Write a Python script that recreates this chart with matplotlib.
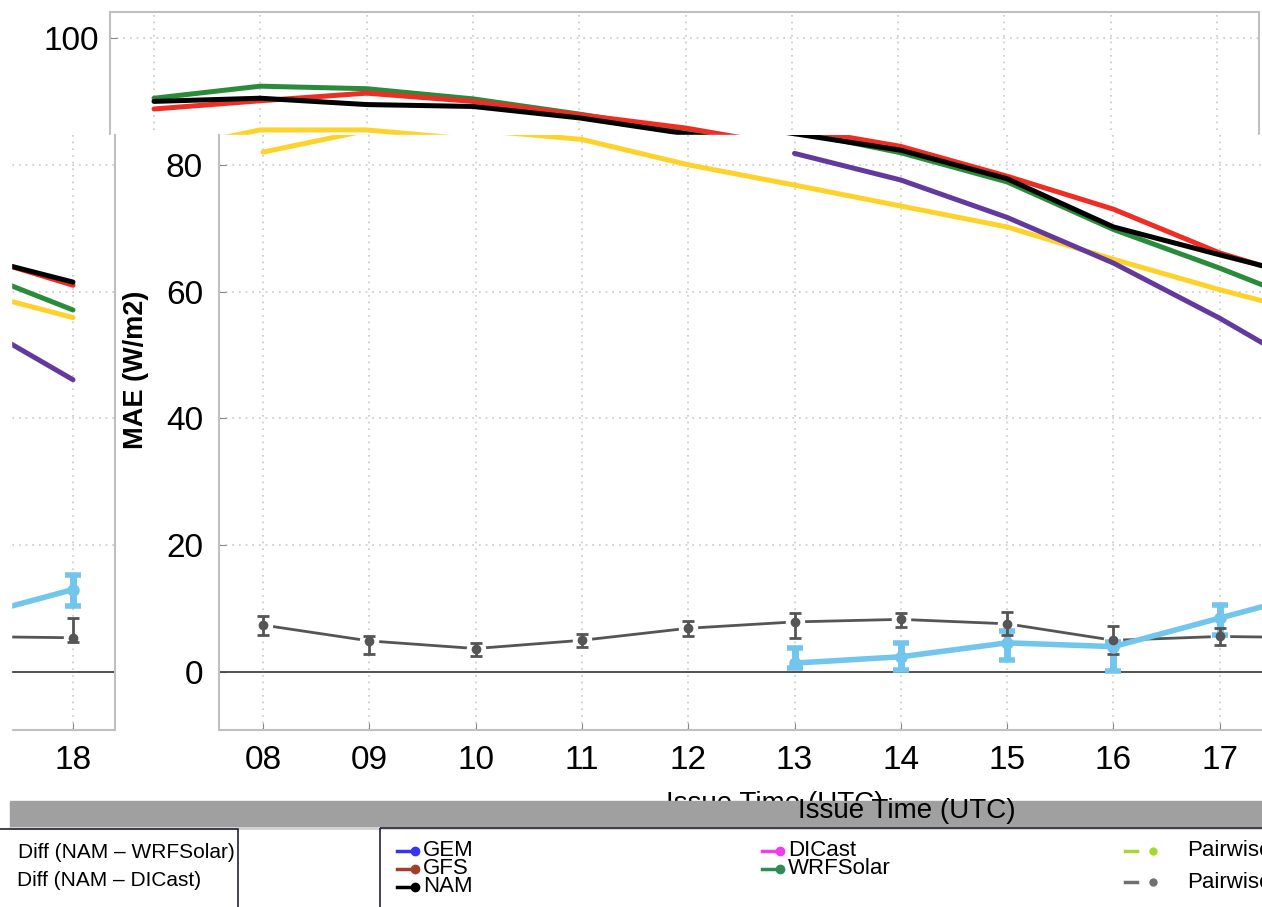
import numpy as np
import matplotlib.pyplot as plt
from matplotlib.patches import Rectangle

plt.rcParams['font.family'] = ['Liberation Sans', 'DejaVu Sans']

# MAE (W/m2) per issue hour
hours = [8, 9, 10, 11, 12, 13, 14, 15, 16, 17, 18]
hour_labels = ['08', '09', '10', '11', '12', '13', '14', '15', '16', '17', '18']
nan = np.nan

mae_gfs = [88.8, 90.1, 91.3, 90.0, 87.9, 85.8, 82.9, 78.2, 73.0, 66.1, 61.0]
mae_nam = [90.0, 90.5, 89.5, 89.2, 87.4, 84.9, 82.3, 77.8, 70.2, 65.8, 61.5]
mae_gem = [90.5, 92.4, 92.0, 90.4, 88.0, 85.3, 81.9, 77.3, 69.8, 63.7, 57.1]
mae_dicast = [82.0, 85.5, 85.5, 84.0, 80.0, 76.8, 73.5, 70.2, 65.1, 60.3, 55.9]
mae_wrfsolar = [nan, nan, nan, nan, nan, 81.8, 77.6, 71.7, 64.5, 55.8, 46.1]

# pairwise differences with interval
diff_dicast = [7.4, 4.9, 3.7, 5.0, 6.9, 7.9, 8.3, 7.6, 5.0, 5.6, 5.4]
diff_dicast_lo = [5.8, 2.8, 2.6, 3.9, 5.6, 5.4, 7.1, 5.8, 2.8, 4.3, 4.8]
diff_dicast_hi = [8.8, 5.7, 4.6, 6.0, 8.0, 9.3, 9.3, 9.4, 7.2, 6.9, 8.5]
diff_wrf = [nan, nan, nan, nan, nan, 1.4, 2.4, 4.6, 4.0, 8.5, 13.0]
diff_wrf_lo = [nan, nan, nan, nan, nan, 0.6, 0.3, 1.9, 0.2, 5.8, 10.4]
diff_wrf_hi = [nan, nan, nan, nan, nan, 3.8, 4.6, 6.4, 4.8, 10.6, 15.3]

W, H = 1262, 907
fig = plt.figure(figsize=(W / 100, H / 100), dpi=100)


def box(x0, y0, x1, y1):
    return [x0 / W, 1 - y1 / H, (x1 - x0) / W, (y1 - y0) / H]


def overlay(z):
    o = fig.add_axes([0, 0, 1, 1])
    o.set_xlim(0, W)
    o.set_ylim(H, 0)
    o.axis('off')
    o.set_zorder(z)
    return o


def draw_panel(ax, ytop, xlabels, ylabels, pad_y=11.5):
    ax.set_xticks(hours)
    ax.set_xticklabels(xlabels)
    yt = [v for v in [0, 20, 40, 60, 80, 100] if v <= ytop]
    ax.set_yticks(yt)
    ax.set_yticklabels([str(v) if ylabels else '' for v in yt])
    ax.set_xlim(7.586, 18.395)
    ax.set_ylim(-9.15, ytop)
    ax.tick_params(direction='in', length=5, color='#888888', labelsize=24)
    ax.tick_params(axis='y', pad=pad_y)
    ax.tick_params(axis='x', pad=11)
    ax.set_axisbelow(True)
    ax.grid(True, linestyle=(0, (1, 3)), color='#c8c8c8', lw=1.2)
    for s in ax.spines.values():
        s.set_color('#c0c0c0')
        s.set_linewidth(1.5)
    ax.axhline(0, color='#444444', lw=1.3)
    for vals, col in [(mae_dicast, '#fdd22a'), (mae_wrfsolar, '#623a9e'),
                      (mae_gem, '#2a8c3a'), (mae_gfs, '#ee2e24'),
                      (mae_nam, '#000000')]:
        ax.plot(hours, vals, color=col, lw=3.6, solid_capstyle='round')
    d = np.array(diff_dicast)
    w = np.array(diff_wrf)
    ax.plot(hours, d, color='#555555', lw=2)
    ax.plot(hours, d, 'o', color='white', ms=13)
    ax.plot(hours, w, color='#72c6ee', lw=4)
    ax.errorbar(hours, w, yerr=[w - np.array(diff_wrf_lo), np.array(diff_wrf_hi) - w],
                fmt='o', color='#72c6ee', ms=8, elinewidth=5, capsize=6, capthick=4)
    ax.errorbar(hours, d, yerr=[d - np.array(diff_dicast_lo), np.array(diff_dicast_hi) - d],
                fmt='o', color='#555555', ms=6, elinewidth=2, capsize=4, capthick=2)


no_labels = [''] * len(hours)

# top panel (only its upper strip stays visible)
ax_top = fig.add_axes(box(110, 12, 1259, 730))
draw_panel(ax_top, 104.1, no_labels, True, pad_y=8)
ax_top.set_zorder(0)

cov1 = overlay(1)
cov1.add_patch(Rectangle((115, 135), W - 115, H - 135, color='white'))

# main panel
ax = fig.add_axes(box(219, 135, 1368, 730))
draw_panel(ax, 84.7, hour_labels[:-1] + [''], True)
ax.spines['top'].set_visible(False)
ax.set_ylabel('MAE (W/m2)', fontsize=19.5, fontweight='bold')
ax.yaxis.set_label_coords((149 - 219) / 1149, 0.605)
ax.set_zorder(2)

cov2 = overlay(3)
cov2.add_patch(Rectangle((0, 135), 115, H - 135, color='white'))

# left piece
ax_left = fig.add_axes(box(-1034, 135, 115, 730))
draw_panel(ax_left, 84.7, [''] * (len(hours) - 1) + ['18'], False)
ax_left.spines['top'].set_visible(False)
ax_left.set_zorder(4)

deco = overlay(5)
deco.add_patch(Rectangle((0, 135), 11, 665, color='white', zorder=0))
deco.text(775, 804, 'Issue Time (UTC)', fontsize=20, ha='center', va='center', zorder=1)
band = Rectangle((10, 801), W - 10, 25, color='#a0a0a0', zorder=2)
deco.add_patch(band)
deco.plot([10, W], [828, 828], color='#d0d0d0', lw=2, zorder=2)
t2 = deco.text(907, 811, 'Issue Time (UTC)', fontsize=20, ha='center', va='center', zorder=3)
t2.set_clip_path(band)

# legend boxes
deco.add_patch(Rectangle((-5, 829), 243, 90, fill=False, ec='#22223a', lw=1.2, zorder=4))
deco.add_patch(Rectangle((380, 828), 900, 90, fill=False, ec='#22223a', lw=1.2, zorder=4))
deco.text(18, 852, 'Diff (NAM \u2013 WRFSolar)', fontsize=15, va='center', zorder=5)
deco.text(17, 880, 'Diff (NAM \u2013 DICast)', fontsize=15, va='center', zorder=5)

model_names = ['GEM', 'GFS', 'NAM', 'DICast', 'WRFSolar']
model_colors = ['#3434f2', '#a0402c', '#000000', '#ee3cee', '#2e8c58']
model_x = [397, 397, 397, 762, 762]
model_y = [851, 869, 887, 851, 869]
for name, col, x0, y0 in zip(model_names, model_colors, model_x, model_y):
    deco.plot([x0, x0 + 18], [y0, y0], color=col, lw=2.5, zorder=5)
    deco.plot([x0 + 18], [y0], 'o', color=col, ms=6, zorder=5)
    deco.text(x0 + 26, y0, name, fontsize=16, va='center', zorder=5)

for col, y0 in [('#a8d830', 851), ('#707070', 882)]:
    deco.plot([1125, 1137], [y0, y0], color=col, lw=2.5, zorder=5)
    deco.plot([1153], [y0], 'o', color=col, ms=5, zorder=5)
    deco.text(1187, y0, 'Pairwise', fontsize=16, va='center', zorder=5)

fig.savefig('out.png', dpi=100)
